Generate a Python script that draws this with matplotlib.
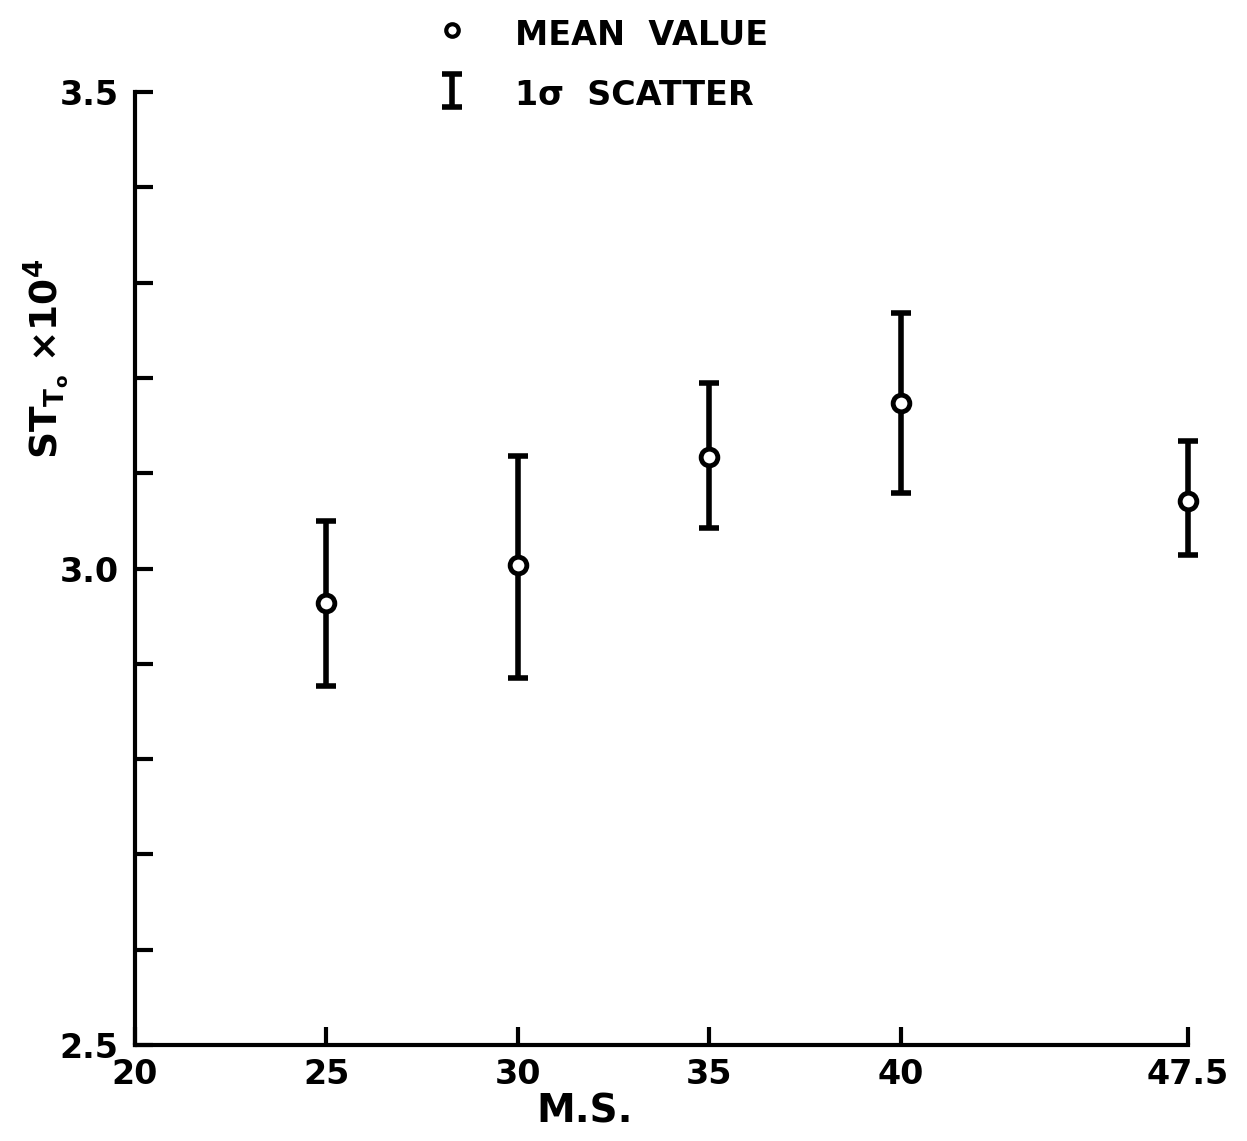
import matplotlib
matplotlib.use("Agg")
import matplotlib.pyplot as plt
from matplotlib.lines import Line2D

# M.S. stations and St_To x 10^4 (mean, 1 sigma band)
ms = [25, 30, 35, 40, 47.5]
st_mean = [2.964, 3.004, 3.117, 3.174, 3.071]
st_upper = [3.050, 3.118, 3.195, 3.268, 3.134]
st_lower = [2.877, 2.885, 3.043, 3.079, 3.014]

x_ticks = [20, 25, 30, 35, 40, 47.5]
x_labels = ["20", "25", "30", "35", "40", "47.5"]
y_ticks = [2.5, 2.6, 2.7, 2.8, 2.9, 3.0, 3.1, 3.2, 3.3, 3.4, 3.5]
y_labels = ["2.5", "", "", "", "", "3.0", "", "", "", "", "3.5"]

plt.rcParams["font.family"] = "DejaVu Sans"
plt.rcParams["font.weight"] = "bold"
plt.rcParams["mathtext.default"] = "bf"

fig = plt.figure(figsize=(12.47, 11.41), dpi=100)
ax = fig.add_axes([0.1083, 0.0841, 0.8444, 0.8353])

err_lo = [m - lo for m, lo in zip(st_mean, st_lower)]
err_hi = [hi - m for m, hi in zip(st_mean, st_upper)]

bars = ax.errorbar(ms, st_mean, yerr=[err_lo, err_hi], fmt="none", ecolor="black",
                   elinewidth=4, capsize=7.5, capthick=4, clip_on=False, zorder=2)
ax.plot(ms, st_mean, "o", ms=12, mfc="white", mec="black", mew=3.5,
        clip_on=False, zorder=3)

ax.set_xlim(20, 47.5)
ax.set_ylim(2.5, 3.5)
ax.set_xticks(x_ticks)
ax.set_xticklabels(x_labels)
ax.set_yticks(y_ticks)
ax.set_yticklabels(y_labels)
ax.tick_params(direction="in", length=13, width=3, labelsize=24)
ax.tick_params(axis="x", pad=9)
ax.tick_params(axis="y", pad=12)

for side in ["top", "right"]:
    ax.spines[side].set_visible(False)
for side in ["left", "bottom"]:
    ax.spines[side].set_linewidth(3)

ax.set_xlabel("M.S.", fontsize=28, fontweight="bold")
ax.xaxis.set_label_coords(0.427, -0.05)
ax.set_ylabel(r"$ST_{T_o}$ $\times10^4$", fontsize=27)
ax.yaxis.set_label_coords(-0.06, 0.72)

# legend at top
mean_key = Line2D([], [], marker="o", ls="none", ms=9, mfc="white", mec="black", mew=3)
leg = fig.legend([mean_key, bars], ["MEAN  VALUE", "1σ  SCATTER"],
                 loc="upper left", bbox_to_anchor=(0.325, 1.012), frameon=False,
                 prop={"size": 24, "weight": "bold"}, handlelength=1.0,
                 handleheight=1.2, handletextpad=1.4, labelspacing=0.75)

fig.savefig("out.png", dpi=100, facecolor="white")
